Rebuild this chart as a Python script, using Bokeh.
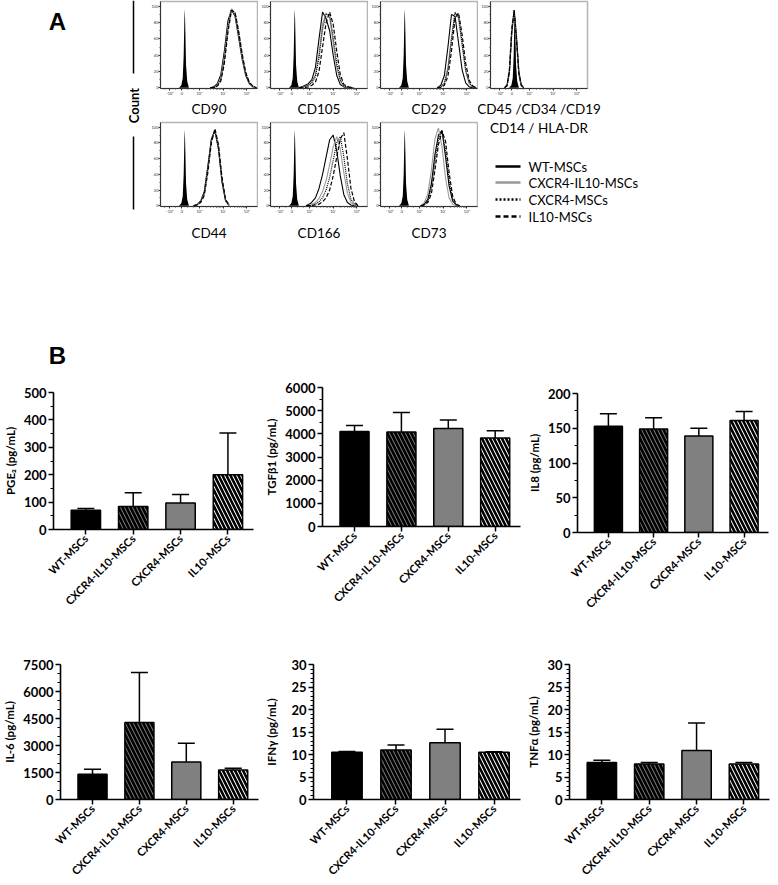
import math
from bokeh.plotting import figure
from bokeh.layouts import row, column
from bokeh.models import (Range1d, FixedTicker, SingleIntervalTicker, Whisker, TeeHead,
                          ColumnDataSource)
from bokeh.core.properties import value
from bokeh.embed import file_html
from bokeh.resources import INLINE

FONT = "Lato"

# ---------------- Panel A: flow cytometry histograms ----------------
series_names = ["WT-MSCs", "CXCR4-IL10-MSCs", "CXCR4-MSCs", "IL10-MSCs"]
hist_tick_pos = [-0.5, 0, 0.75, 1.75, 2.75]
hist_tick_labels = ["-10³", "0", "10³", "10⁴", "10⁵"]
count_ticks = [0, 20, 40, 60, 80, 100]

iso_x = [-0.12, -0.02, 0.04, 0.08, 0.11, 0.13, 0.15, 0.18, 0.23, 0.30]
iso_y = [0, 3, 12, 40, 85, 97, 70, 28, 8, 0]

cd90_x = [1.2, 1.35, 1.5, 1.65, 1.8, 1.95, 2.1, 2.25, 2.4, 2.55, 2.7, 2.85, 3.0, 3.15]
cd90_wt = [0, 1, 5, 16, 45, 82, 96, 88, 62, 35, 15, 5, 1, 0]
cd90_dual = [0, 0, 3, 12, 38, 75, 97, 90, 66, 38, 17, 6, 1, 0]
cd90_cxcr4 = [0, 0, 2, 10, 34, 72, 96, 92, 68, 40, 18, 6, 2, 0]
cd90_il10 = [0, 0, 2, 8, 30, 68, 95, 93, 70, 42, 19, 7, 2, 0]

cd105_x = [0.3, 0.5, 0.7, 0.85, 1.0, 1.15, 1.3, 1.45, 1.6, 1.75, 1.9, 2.05, 2.2, 2.4, 2.6]
cd105_wt = [0, 2, 5, 10, 25, 60, 93, 85, 70, 40, 15, 4, 1, 0, 0]
cd105_dual = [0, 1, 3, 7, 16, 42, 78, 92, 86, 55, 25, 8, 2, 0, 0]
cd105_cxcr4 = [0, 1, 3, 6, 14, 36, 72, 90, 90, 62, 30, 10, 3, 0, 0]
cd105_il10 = [0, 0, 1, 3, 7, 20, 50, 80, 93, 78, 45, 16, 4, 1, 0]

cd29_x = [1.5, 1.65, 1.8, 1.95, 2.1, 2.25, 2.4, 2.55, 2.7, 2.85, 3.0, 3.15]
cd29_wt = [0, 3, 15, 50, 90, 88, 55, 22, 6, 1, 0, 0]
cd29_dual = [0, 1, 6, 25, 62, 93, 85, 52, 20, 5, 1, 0]
cd29_cxcr4 = [0, 1, 5, 22, 58, 92, 88, 55, 22, 6, 1, 0]
cd29_il10 = [0, 0, 3, 14, 45, 85, 92, 65, 30, 9, 2, 0]

cd45_x = [-0.3, -0.2, -0.1, 0.0, 0.1, 0.2, 0.3, 0.4, 0.5]
cd45_wt = [0, 3, 20, 70, 95, 60, 18, 3, 0]
cd45_dual = [0, 4, 24, 75, 93, 55, 15, 2, 0]
cd45_cxcr4 = [0, 2, 18, 66, 96, 64, 20, 4, 0]
cd45_il10 = [0, 3, 22, 72, 94, 58, 17, 3, 0]

cd44_x = [0.5, 0.65, 0.8, 0.95, 1.1, 1.25, 1.4, 1.55, 1.7, 1.85, 2.0]
cd44_wt = [0, 2, 6, 18, 50, 85, 96, 72, 30, 6, 0]
cd44_dual = [0, 2, 5, 15, 46, 82, 97, 75, 33, 7, 0]
cd44_cxcr4 = [0, 1, 5, 16, 48, 84, 95, 74, 32, 7, 1]
cd44_il10 = [0, 1, 4, 13, 42, 80, 98, 78, 36, 8, 1]

cd166_x = [0.6, 0.8, 1.0, 1.15, 1.3, 1.45, 1.6, 1.75, 1.9, 2.05, 2.2, 2.35, 2.5, 2.65, 2.8]
cd166_wt = [0, 3, 10, 22, 40, 62, 84, 90, 70, 38, 14, 4, 1, 0, 0]
cd166_dual = [0, 1, 4, 9, 18, 32, 52, 75, 88, 72, 42, 16, 4, 1, 0]
cd166_cxcr4 = [0, 0, 2, 5, 10, 20, 36, 58, 80, 88, 62, 28, 8, 2, 0]
cd166_il10 = [0, 0, 1, 2, 5, 10, 20, 38, 62, 85, 93, 60, 22, 5, 0]

cd73_x = [0.8, 0.95, 1.1, 1.25, 1.4, 1.55, 1.7, 1.85, 2.0, 2.15, 2.3, 2.45]
cd73_wt = [0, 2, 8, 28, 65, 90, 96, 62, 25, 6, 1, 0]
cd73_dual = [0, 4, 15, 45, 85, 99, 75, 35, 10, 2, 0, 0]
cd73_cxcr4 = [0, 1, 6, 22, 56, 86, 95, 70, 32, 8, 1, 0]
cd73_il10 = [0, 1, 4, 15, 45, 78, 95, 82, 42, 12, 2, 0]

# ---------------- Panel B: secreted factors ----------------
categories = ["WT-MSCs", "CXCR4-IL10-MSCs", "CXCR4-MSCs", "IL10-MSCs"]
pge2_mean = [70, 84, 97, 200]
pge2_upper = [77, 134, 128, 352]
tgfb1_mean = [4100, 4080, 4230, 3820]
tgfb1_upper = [4360, 4920, 4600, 4130]
il8_mean = [153, 149, 139, 161]
il8_upper = [171, 165, 150, 174]
il6_mean = [1400, 4280, 2080, 1640]
il6_upper = [1680, 7050, 3130, 1740]
ifng_mean = [10.5, 11.0, 12.6, 10.5]
ifng_upper = [10.65, 12.1, 15.6, 10.6]
tnfa_mean = [8.2, 7.9, 10.9, 7.9]
tnfa_upper = [8.7, 8.2, 17.0, 8.2]

bar_fill = ["black", "#7a7a7a", "#808080", "white"]
bar_hatch = [" ", "\\", " ", "\\"]

CURVE_STYLES = [
    dict(line_color="black", line_width=1.1),
    dict(line_color="#9a9a9a", line_width=1.1),
    dict(line_color="black", line_width=1.2, line_dash="1 1"),
    dict(line_color="black", line_width=1.2, line_dash="4 2"),
]
LEGEND_STYLES = [
    dict(line_color="black", line_width=2.5),
    dict(line_color="#9a9a9a", line_width=2.5),
    dict(line_color="black", line_width=2.5, line_dash="2 2"),
    dict(line_color="black", line_width=2.5, line_dash="5 3"),
]


def canvas(w, h):
    p = figure(width=w, height=h, x_range=Range1d(0, w), y_range=Range1d(0, h),
               min_border=0, toolbar_location=None, output_backend="svg",
               x_axis_location=None, y_axis_location=None, frame_align=False)
    p.grid.visible = False
    p.outline_line_color = None
    return p


minor_x = [-0.75, -0.25, 0.25, 0.5]
for d in (0.75, 1.75):
    for k in range(2, 10):
        minor_x.append(d + math.log10(k))


def hist_fig(label, xs, curves, w, h, top, bottom, right, lab_standoff):
    p = figure(width=w, height=h, x_range=Range1d(-0.9, 3.2), y_range=Range1d(-1, 106),
               min_border_left=12, min_border_right=right, min_border_top=top,
               min_border_bottom=bottom, toolbar_location=None, output_backend="svg",
               frame_align=False)
    p.grid.visible = False
    p.outline_line_color = "#b5b5b5"
    p.outline_line_width = 1.5
    p.varea(x=iso_x, y1=[0] * len(iso_x), y2=iso_y, fill_color="black")
    for ys, st in zip(curves, CURVE_STYLES):
        p.line(xs, ys, **st)
    p.xaxis.ticker = FixedTicker(ticks=hist_tick_pos, minor_ticks=minor_x)
    p.xaxis.major_label_overrides = dict(zip(hist_tick_pos, hist_tick_labels))
    p.yaxis.ticker = FixedTicker(ticks=count_ticks, minor_ticks=[10, 30, 50, 70, 90])
    p.yaxis.axis_label_standoff = 0
    for ax in (p.xaxis[0], p.yaxis[0]):
        ax.major_label_text_font_size = "4px"
        ax.major_label_text_font = FONT
        ax.major_label_text_color = "#333333"
        ax.major_tick_out = 2
        ax.major_tick_in = 0
        ax.minor_tick_out = 1
        ax.minor_tick_in = 0
        ax.major_label_standoff = 0
        ax.axis_line_color = "#333333"
        ax.major_tick_line_color = "#333333"
        ax.minor_tick_line_color = "#555555"
    p.xaxis.axis_label = label
    p.xaxis.axis_label_text_font = FONT
    p.xaxis.axis_label_text_font_style = "normal"
    p.xaxis.axis_label_text_font_size = "13.5px"
    p.xaxis.axis_label_text_color = "black"
    p.xaxis.axis_label_standoff = lab_standoff
    return p


# left strip with "A" and the Count label (page x 0..148, y 0..243)
left = canvas(148, 243)
left.text(x=[57], y=[222], text=["A"], text_font=value("Liberation Sans"), text_font_style="bold",
          text_font_size="24px", text_align="center", text_baseline="middle")
left.text(x=[133], y=[138], text=["Count"], angle=math.pi / 2, text_font=value(FONT),
          text_font_style="bold", text_font_size="13px", text_align="center", text_baseline="middle")
left.segment(x0=[133, 133], y0=[243, 107], x1=[133, 133], y1=[170, 34], line_color="black",
             line_width=1.5)

h1 = hist_fig("CD90", cd90_x, [cd90_wt, cd90_dual, cd90_cxcr4, cd90_il10], 110, 120, 1, 32, 1, 2)
h2 = hist_fig("CD105", cd105_x, [cd105_wt, cd105_dual, cd105_cxcr4, cd105_il10], 110, 120, 1, 32, 1, 2)
h3 = hist_fig("CD29", cd29_x, [cd29_wt, cd29_dual, cd29_cxcr4, cd29_il10], 110, 120, 1, 32, 1, 2)
h4 = hist_fig("CD45 /CD34 /CD19\nCD14 / HLA-DR", cd45_x, [cd45_wt, cd45_dual, cd45_cxcr4, cd45_il10],
              170, 148, 1, 60, 61, 2)
h5 = hist_fig("CD44", cd44_x, [cd44_wt, cd44_dual, cd44_cxcr4, cd44_il10], 110, 123, 2, 32, 1, 8)
h6 = hist_fig("CD166", cd166_x, [cd166_wt, cd166_dual, cd166_cxcr4, cd166_il10], 110, 123, 2, 32, 1, 8)
h7 = hist_fig("CD73", cd73_x, [cd73_wt, cd73_dual, cd73_cxcr4, cd73_il10], 110, 123, 2, 32, 1, 8)

# legend block (page x 478..648, y 148..243)
leg = canvas(170, 95)
leg_rows_y = [77, 61, 44, 27]
for name, st, yy in zip(series_names, LEGEND_STYLES, leg_rows_y):
    leg.line(x=[17, 42], y=[yy, yy], **st)
leg.text(x=[50] * len(series_names), y=leg_rows_y, text=series_names, text_font=value(FONT),
         text_font_size="13px", text_align="left", text_baseline="middle", text_color="black")

top_block = row(left, column(row(h1, h2, h3), row(h5, h6, h7)), column(h4, leg))

# "B" strip (page y 243..372)
bstrip = canvas(776, 129)
bstrip.text(x=[57], y=[17], text=["B"], text_font=value("Liberation Sans"), text_font_style="bold",
            text_font_size="24px", text_align="center", text_baseline="middle")


def bar_fig(ylabel, mean, upper, ymax, interval, nminor, w, h, left_b, right_b, top_b, bottom_b,
            lab_standoff=4):
    xs = list(range(1, len(categories) + 1))
    src = ColumnDataSource(dict(x=xs, mean=mean, upper=upper, fill=bar_fill, hatch=bar_hatch))
    p = figure(width=w, height=h, x_range=Range1d(0.317, 4.54), y_range=Range1d(0, ymax),
               min_border_left=left_b, min_border_right=right_b, min_border_top=top_b,
               min_border_bottom=bottom_b, toolbar_location=None, output_backend="svg",
               frame_align=False)
    p.grid.visible = False
    p.outline_line_color = None
    p.vbar(x="x", top="mean", bottom=0, width=0.62, source=src, fill_color="fill",
           hatch_pattern="hatch", hatch_color="black", hatch_weight=2.6, hatch_scale=8,
           line_color="black", line_width=1.5)
    p.add_layout(Whisker(base="x", lower="mean", upper="upper", source=src, line_color="black",
                         line_width=1.5, upper_head=TeeHead(size=17, line_width=1.5,
                                                            line_color="black"),
                         lower_head=None))
    p.xaxis.ticker = FixedTicker(ticks=xs)
    p.xaxis.major_label_overrides = dict(zip(xs, categories))
    p.xaxis.major_label_orientation = math.pi / 4
    p.xaxis.major_label_text_font_size = "11px"
    p.yaxis.ticker = SingleIntervalTicker(interval=interval, num_minor_ticks=nminor)
    p.yaxis.major_label_text_font_size = "13px"
    p.yaxis.axis_label = ylabel
    p.yaxis.axis_label_text_font = FONT
    p.yaxis.axis_label_text_font_style = "bold"
    p.yaxis.axis_label_text_font_size = "11.5px"
    p.yaxis.axis_label_text_color = "black"
    p.yaxis.axis_label_standoff = lab_standoff
    for ax in (p.xaxis[0], p.yaxis[0]):
        ax.major_label_text_font = FONT
        ax.major_label_text_font_style = "bold"
        ax.major_label_text_color = "black"
        ax.axis_line_width = 1.6
        ax.axis_line_color = "black"
        ax.major_tick_line_width = 1.5
        ax.major_tick_out = 5
        ax.major_tick_in = 0
        ax.minor_tick_line_width = 1.2
        ax.minor_tick_out = 3
        ax.minor_tick_in = 0
        ax.major_label_standoff = 2
    return p


b1 = bar_fig("PGE₂ (pg/mL)", pge2_mean, pge2_upper, 500, 100, 2, 262, 278, 50, 9, 20, 121)
b2 = bar_fig("TGFβ1 (pg/mL)", tgfb1_mean, tgfb1_upper, 6000, 1000, 2, 262, 278, 58, 4, 15, 124)
b3 = bar_fig("IL8 (pg/mL)", il8_mean, il8_upper, 200, 50, 2, 252, 278, 45, 8, 21, 118)
b4 = bar_fig("IL-6 (pg/mL)", il6_mean, il6_upper, 7500, 1500, 3, 262, 234, 52, 4, 14, 82)
b5 = bar_fig("IFNγ (pg/mL)", ifng_mean, ifng_upper, 30, 5, 5, 262, 234, 50, 4, 14, 82, 10)
b6 = bar_fig("TNFα (pg/mL)", tnfa_mean, tnfa_upper, 30, 5, 5, 252, 234, 38, 7, 14, 82)

page = column(top_block, bstrip, row(b1, b2, b3), row(b4, b5, b6))

open("out.html", "w").write(file_html(page, INLINE))
